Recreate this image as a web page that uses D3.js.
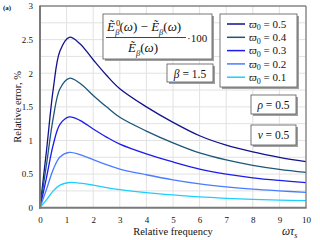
<!DOCTYPE html>
<html><head><meta charset="utf-8">
<script src="https://cdn.jsdelivr.net/npm/d3@7"></script>
<style>
body{margin:0;background:#fff}
svg{display:block}
</style>
</head><body>
<svg id="c" width="320" height="240"></svg>
<script>
// ---- data ----
const xVals = [0, 0.25, 0.5, 0.75, 1.1, 1.5, 2, 2.5, 3, 4, 5, 6, 7, 8, 9, 10];
const w05 = [0, 0.87, 1.77, 2.33, 2.535, 2.44, 2.2, 1.97, 1.77, 1.5, 1.27, 1.07, 0.93, 0.83, 0.75, 0.685];
const w04 = [0, 0.66, 1.34, 1.77, 1.925, 1.85, 1.67, 1.5, 1.345, 1.14, 0.965, 0.815, 0.71, 0.63, 0.57, 0.525];
const w03 = [0, 0.46, 0.94, 1.24, 1.35, 1.3, 1.17, 1.05, 0.945, 0.8, 0.68, 0.575, 0.5, 0.445, 0.405, 0.372];
const w02 = [0, 0.28, 0.57, 0.755, 0.822, 0.79, 0.715, 0.64, 0.575, 0.49, 0.415, 0.355, 0.31, 0.275, 0.25, 0.229];
const w01 = [0, 0.12, 0.25, 0.335, 0.375, 0.365, 0.335, 0.3, 0.27, 0.225, 0.19, 0.16, 0.14, 0.125, 0.113, 0.104];
const seriesValues = [w05, w04, w03, w02, w01];
const seriesLabels = ["0.5", "0.4", "0.3", "0.2", "0.1"];
const seriesColors = ["#12128c", "#1d5678", "#1c1cec", "#4a7cff", "#1ccfff"];
const xTicks = [0,1,2,3,4,5,6,7,8,9,10];
const yTicks = [0,0.5,1,1.5,2,2.5,3];

const FONT = "'Liberation Serif','Times New Roman','DejaVu Serif',serif";

// ---- layout ----
const svg = d3.select("#c");
const L = 40, R = 306, T = 6, B = 207.7;
const x = d3.scaleLinear().domain([0,10]).range([L,R]);
const y = d3.scaleLinear().domain([0,3]).range([B,T]);

// grid
const g = svg.append("g");
g.selectAll("line.h").data(d3.range(0,3.01,0.25)).join("line")
  .attr("x1",L).attr("x2",R).attr("y1",d=>y(d)).attr("y2",d=>y(d))
  .attr("stroke","#e2e2e2").attr("stroke-width",1);
g.selectAll("line.v").data(xTicks).join("line")
  .attr("y1",T).attr("y2",B).attr("x1",d=>x(d)).attr("x2",d=>x(d))
  .attr("stroke","#e2e2e2").attr("stroke-width",1);

// axes (labels only)
const xa = svg.append("g").attr("transform",`translate(0,${B})`)
  .call(d3.axisBottom(x).tickValues(xTicks).tickSize(0).tickPadding(9).tickFormat(d3.format("d")));
const ya = svg.append("g").attr("transform",`translate(${L},0)`)
  .call(d3.axisLeft(y).tickValues(yTicks).tickSize(0).tickPadding(7).tickFormat(d=>String(d)));
[xa,ya].forEach(a=>{a.select(".domain").remove();a.attr("font-family",FONT).attr("font-size",9);a.selectAll("text").attr("fill","#222");});

// curves
const line = d3.line().x((d,i)=>x(xVals[i])).y(d=>y(d)).curve(d3.curveCatmullRom.alpha(0.5));
svg.append("g").selectAll("path").data(seriesValues).join("path")
  .attr("d",line).attr("fill","none")
  .attr("stroke",(d,i)=>seriesColors[i]).attr("stroke-width",1.3);

// frame
svg.append("line").attr("x1",L).attr("x2",R).attr("y1",T).attr("y2",T).attr("stroke","#555").attr("stroke-width",1);
svg.append("line").attr("x1",R).attr("x2",R).attr("y1",T).attr("y2",B).attr("stroke","#777").attr("stroke-width",1.2);
svg.append("line").attr("x1",L).attr("x2",L).attr("y1",T-0.5).attr("y2",B+1).attr("stroke","#7a7a7a").attr("stroke-width",2);
svg.append("line").attr("x1",L-1).attr("x2",R+0.6).attr("y1",B).attr("y2",B).attr("stroke","#7a7a7a").attr("stroke-width",2);

// titles
svg.append("text").attr("x",3).attr("y",10).attr("font-size",7).attr("font-weight","bold").text("(a)");
svg.append("text").attr("transform",`translate(21,${(T+B)/2}) rotate(-90)`).attr("text-anchor","middle")
  .attr("font-size",10.5).text("Relative error, %");
svg.append("text").attr("x",(L+R)/2).attr("y",235).attr("text-anchor","middle").attr("font-size",10.5).text("Relative frequency");
const wt = svg.append("text").attr("x",282).attr("y",235).attr("font-size",11.5).attr("font-style","italic");
wt.append("tspan").text("ωτ");
wt.append("tspan").attr("font-size",8).attr("dy",2.5).text("s");

// boxes helper
function box(x0,y0,w,h){
  svg.append("rect").attr("x",x0+2).attr("y",y0+2).attr("width",w).attr("height",h).attr("fill","#a0a0a0");
  svg.append("rect").attr("x",x0).attr("y",y0).attr("width",w).attr("height",h).attr("fill","#fff").attr("stroke","#555").attr("stroke-width",0.8);
}

// formula box
box(103,14,109,45);
function Eterm(t, sup){
  t.append("tspan").attr("font-style","italic").text("Ẽ");
  if(sup){
    t.append("tspan").attr("font-size",8.5).attr("dy",-5).attr("dx",1).text("0");
    t.append("tspan").attr("font-size",8.5).attr("font-style","italic").attr("dy",9).attr("dx",-5).text("β");
  } else {
    t.append("tspan").attr("font-size",8.5).attr("font-style","italic").attr("dy",4).text("β");
  }
}
const num = svg.append("text").attr("x",107).attr("y",31).attr("font-size",13);
Eterm(num,true);
num.append("tspan").attr("dy",-4).text("(");
num.append("tspan").attr("font-style","italic").text("ω");
num.append("tspan").text(") − ");
Eterm(num,false);
num.append("tspan").attr("dy",-4).text("(");
num.append("tspan").attr("font-style","italic").text("ω");
num.append("tspan").text(")");
svg.append("line").attr("x1",106).attr("x2",186).attr("y1",37.5).attr("y2",37.5).attr("stroke","#111").attr("stroke-width",0.8);
const den = svg.append("text").attr("x",128).attr("y",52).attr("font-size",13);
Eterm(den,false);
den.append("tspan").attr("dy",-4).text("(");
den.append("tspan").attr("font-style","italic").text("ω");
den.append("tspan").text(")");
svg.append("text").attr("x",187).attr("y",41.5).attr("font-size",11).text("·100");

// beta box
box(167,64,46,18);
const bt = svg.append("text").attr("x",190).attr("y",77.5).attr("text-anchor","middle").attr("font-size",11.5);
bt.append("tspan").attr("font-style","italic").text("β");
bt.append("tspan").text(" = 1.5");

// legend
box(220,14,77,73);
const lg = svg.append("g").selectAll("g").data(seriesLabels).join("g")
  .attr("transform",(d,i)=>`translate(0,${24 + i*13.3})`);
lg.append("line").attr("x1",227).attr("x2",245).attr("y1",0).attr("y2",0)
  .attr("stroke",(d,i)=>seriesColors[i]).attr("stroke-width",1.5);
const lt = lg.append("text").attr("x",249).attr("y",3.8).attr("font-size",11);
lt.append("tspan").attr("font-style","italic").text("ϖ");
lt.append("tspan").attr("font-size",8).attr("dy",2.5).text("0");
lt.append("tspan").attr("dy",-2.5).text(d=>" = "+d);

// rho, nu boxes
box(251,95,45,19);
const rt = svg.append("text").attr("x",273.5).attr("y",108.5).attr("text-anchor","middle").attr("font-size",11.5);
rt.append("tspan").attr("font-style","italic").text("ρ");
rt.append("tspan").text(" = 0.5");
box(251,125,45,20);
const nt = svg.append("text").attr("x",273.5).attr("y",139).attr("text-anchor","middle").attr("font-size",11.5);
nt.append("tspan").attr("font-style","italic").text("ν");
nt.append("tspan").text(" = 0.5");

// font for all text
svg.selectAll("text").attr("font-family",FONT).attr("fill","#111");
</script>
</body></html>
